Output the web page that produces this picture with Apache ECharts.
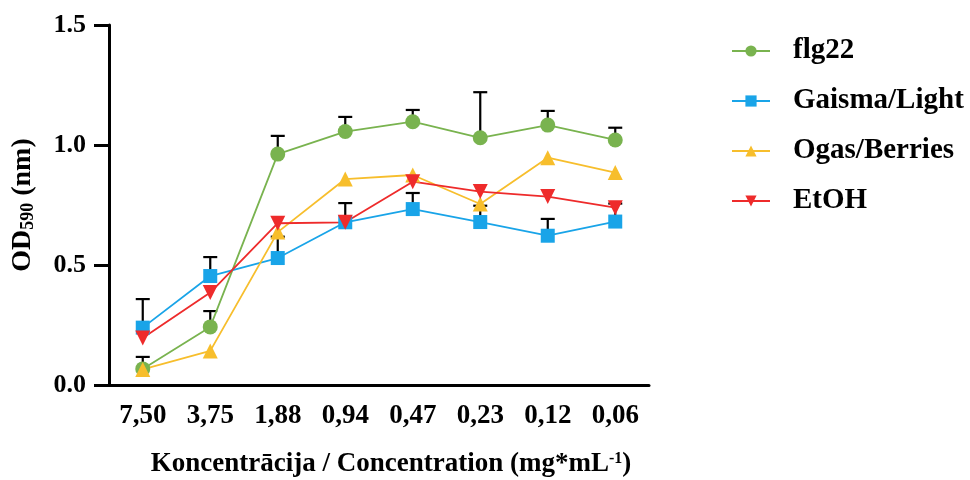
<!DOCTYPE html>
<html>
<head>
<meta charset="utf-8">
<script src="https://cdn.jsdelivr.net/npm/echarts@6/dist/echarts.min.js"></script>
<style>
html,body{margin:0;padding:0;background:#fff;}
#chart{width:970px;height:480px;}
</style>
</head>
<body>
<div id="chart"></div>
<script>
const categories = ['7,50','3,75','1,88','0,94','0,47','0,23','0,12','0,06'];
const flg22 = [0.067,0.242,0.962,1.056,1.097,1.030,1.083,1.021];
const flg22Sd = [0.050,0.066,0.076,0.061,0.049,0.190,0.059,0.051];
const gaisma = [0.239,0.454,0.529,0.678,0.733,0.679,0.622,0.681];
const gaismaSd = [0.119,0.079,0.089,0.080,0.067,0.068,0.070,0.075];
const ogas = [0.065,0.142,0.637,0.858,0.875,0.754,0.947,0.885];
const etoh = [0.196,0.385,0.674,0.678,0.847,0.806,0.785,0.739];
const yTicks = [0, 0.5, 1.0, 1.5];

const FONT = '"Liberation Serif", "Times New Roman", serif';
const colors = {flg:'#79B34F', gai:'#19A4E8', oga:'#F7BE2C', eto:'#EE2B2B'};

function errSeries(name, means, sds) {
  return {
    type: 'custom',
    name: name + '_err',
    z: 1,
    silent: true,
    data: means.map((m, i) => [i, m, m + sds[i]]),
    renderItem: function (params, api) {
      const lo = api.coord([api.value(0), api.value(1)]);
      const hi = api.coord([api.value(0), api.value(2)]);
      const half = 7;
      const st = {stroke: '#000', lineWidth: 2.2};
      return {
        type: 'group',
        children: [
          {type: 'line', shape: {x1: lo[0], y1: lo[1], x2: hi[0], y2: hi[1]}, style: st},
          {type: 'line', shape: {x1: hi[0]-half, y1: hi[1], x2: hi[0]+half, y2: hi[1]}, style: st}
        ]
      };
    }
  };
}

function lineSeries(name, data, color, symbol, size, rotate) {
  return {
    type: 'line',
    name: name,
    data: data,
    z: 3,
    symbol: symbol,
    symbolSize: size,
    symbolRotate: rotate || 0,
    showAllSymbol: true,
    lineStyle: {color: color, width: 1.8},
    itemStyle: {color: color, opacity: 1},
    emphasis: {disabled: true}
  };
}

const chart = echarts.init(document.getElementById('chart'), null, {renderer: 'canvas'});
chart.setOption({
  animation: false,
  backgroundColor: '#fff',
  grid: {left: 109, top: 25, right: 321, bottom: 95, containLabel: false, outerBoundsMode: 'none'},
  legend: {
    orient: 'vertical',
    left: 731,
    top: 36,
    padding: 0,
    itemWidth: 38,
    itemHeight: 14,
    itemGap: 20,
    data: ['flg22','Gaisma/Light','Ogas/Berries','EtOH'],
    textStyle: {fontFamily: FONT, fontWeight: 'bold', fontSize: 29, color: '#000', lineHeight: 30, padding: [0,0,0,18]}
  },
  xAxis: {
    type: 'category',
    data: categories,
    boundaryGap: true,
    axisLine: {lineStyle: {color: '#000', width: 3}},
    axisTick: {alignWithLabel: true, length: 14, lineStyle: {color: '#000', width: 3}},
    axisLabel: {fontFamily: FONT, fontWeight: 'bold', fontSize: 27, color: '#000', margin: 18},
    name: '{b|Koncentrācija / Concentration (mg*mL}{sup|-1}{b|)}',
    nameLocation: 'middle',
    nameGap: 66,
    nameTextStyle: {
      padding: [0, 0, 0, 24],
      rich: {
        b: {fontFamily: FONT, fontWeight: 'bold', fontSize: 27, color: '#000'},
        sup: {fontFamily: FONT, fontWeight: 'bold', fontSize: 16, color: '#000', verticalAlign: 'top'}
      }
    }
  },
  yAxis: {
    type: 'value',
    min: 0, max: 1.5, interval: 0.5,
    splitLine: {show: false},
    axisLine: {show: true, lineStyle: {color: '#000', width: 3}},
    axisTick: {show: true, length: 15, lineStyle: {color: '#000', width: 3}},
    axisLabel: {fontFamily: FONT, fontWeight: 'bold', fontSize: 26, color: '#000', margin: 23,
      formatter: v => yTicks.includes(v) ? v.toFixed(1) : ''},
    name: '{b|OD}{sub|590}{b| (nm)}',
    nameLocation: 'middle',
    nameGap: 72,
    nameRotate: 90,
    nameTextStyle: {
      rich: {
        b: {fontFamily: FONT, fontWeight: 'bold', fontSize: 28, color: '#000'},
        sub: {fontFamily: FONT, fontWeight: 'bold', fontSize: 18, color: '#000', verticalAlign: 'bottom'}
      }
    }
  },
  series: [
    errSeries('flg22', flg22, flg22Sd),
    errSeries('Gaisma/Light', gaisma, gaismaSd),
    lineSeries('flg22', flg22, colors.flg, 'circle', 15),
    lineSeries('Gaisma/Light', gaisma, colors.gai, 'rect', 14),
    lineSeries('Ogas/Berries', ogas, colors.oga, 'triangle', 15),
    lineSeries('EtOH', etoh, colors.eto, 'triangle', 15, 180)
  ]
});
</script>
</body>
</html>
